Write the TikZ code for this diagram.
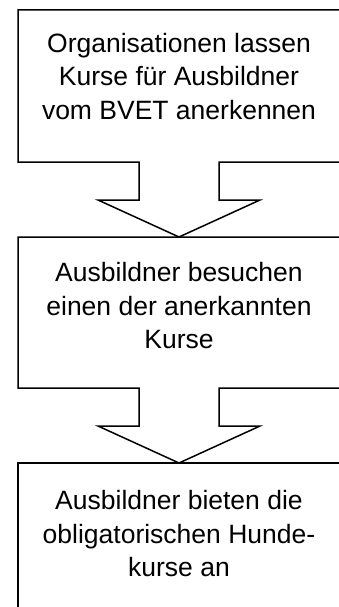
\documentclass[tikz,border=0pt]{standalone}
\usepackage{fontspec}
\setmainfont{Liberation Sans}
\begin{document}
\begin{tikzpicture}[x=1pt,y=-1pt,line width=1.5pt,
  boxshape/.style={draw=none,minimum width=322pt,inner sep=0pt,outer sep=0pt},
  boxtext/.style={align=center,font=\fontsize{26.5}{33.5}\selectfont,inner sep=0pt,anchor=north},
  frame/.style={draw=black,fill=white,line join=miter}]
\useasboundingbox (0,0) rectangle (339,607);
\clip (0,0) rectangle (339,607);
\node[boxshape,minimum height=152pt] (b1) at (179,86) {};
\node[boxshape,minimum height=151pt] (b2) at (179,312.5) {};
\node[boxshape,minimum height=151pt] (b3) at (179,538.5) {};
% box 1 with arrow
\draw[frame] (b1.north west) -- (b1.north east) -- (b1.south east)
  -- ([xshift=40pt]b1.south) -- ++(0,38) -- ++(41,0) -- (b2.north)
  -- ++(-81,-37) -- ++(41,0) -- ([xshift=-40pt]b1.south) -- (b1.south west) -- cycle;
% box 2 with arrow
\draw[frame] (b2.north west) -- (b2.north east) -- (b2.south east)
  -- ([xshift=40pt]b2.south) -- ++(0,38) -- ++(41,0) -- (b3.north)
  -- ++(-81,-37) -- ++(41,0) -- ([xshift=-40pt]b2.south) -- (b2.south west) -- cycle;
% box 3
\draw[frame] (b3.north west) rectangle (b3.south east);
\node[boxtext] (t1) at (179,32.5) {Organisationen lassen\\Kurse für Ausbildner\\vom BVET anerkennen};
\node[boxtext] (t2) at (179,262) {Ausbildner besuchen\\einen der anerkannten\\Kurse};
\node[boxtext] (t3) at (179,490) {Ausbildner bieten die\\obligatorischen Hunde-\\kurse an};
\end{tikzpicture}
\end{document}
